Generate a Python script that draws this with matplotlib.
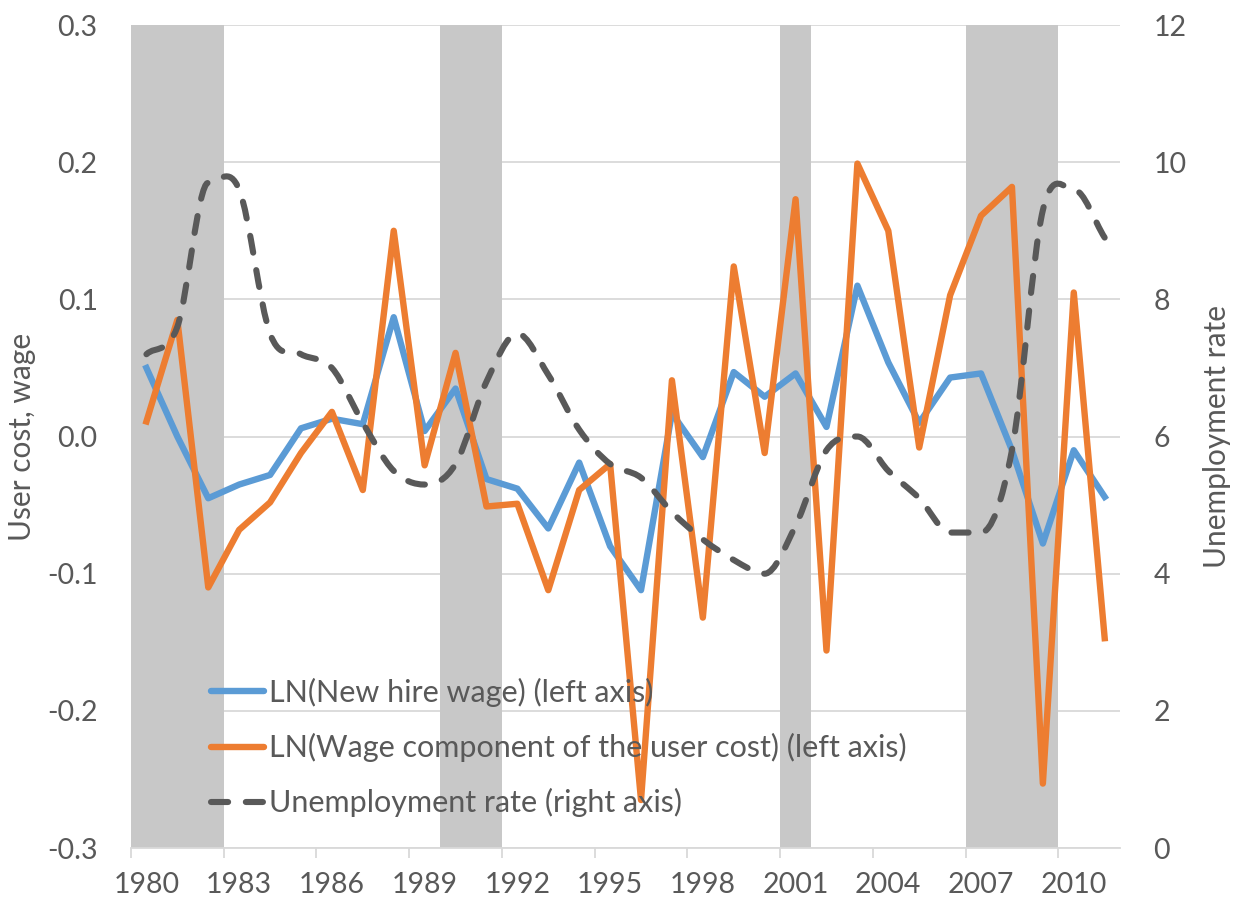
import numpy as np
import matplotlib
matplotlib.use("Agg")
import matplotlib.pyplot as plt
from matplotlib.path import Path
from matplotlib.patches import PathPatch
from matplotlib.lines import Line2D

plt.rcParams['font.family'] = ['Lato', 'DejaVu Sans']

# data
years = list(range(1980, 2012))
new_hire = [0.050, 0.000, -0.045, -0.035, -0.028, 0.006, 0.013, 0.009, 0.087, 0.004,
            0.035, -0.031, -0.038, -0.067, -0.019, -0.080, -0.112, 0.017, -0.015, 0.047,
            0.029, 0.046, 0.007, 0.110, 0.054, 0.010, 0.043, 0.046, -0.010, -0.078,
            -0.010, -0.044]
user_cost = [0.011, 0.085, -0.110, -0.068, -0.048, -0.012, 0.018, -0.039, 0.150, -0.021,
             0.061, -0.051, -0.049, -0.112, -0.039, -0.020, -0.265, 0.041, -0.132, 0.124,
             -0.012, 0.173, -0.156, 0.199, 0.150, -0.008, 0.103, 0.161, 0.182, -0.253,
             0.105, -0.147]
unemp = [7.2, 7.6, 9.7, 9.6, 7.5, 7.2, 7.0, 6.2, 5.5, 5.3,
         5.6, 6.8, 7.5, 6.9, 6.1, 5.6, 5.4, 4.9, 4.5, 4.2,
         4.0, 4.7, 5.8, 6.0, 5.5, 5.1, 4.6, 4.6, 5.8, 9.3,
         9.6, 8.9]
recessions = [(1980, 1983), (1990, 1992), (2001, 2002), (2007, 2010)]
labels = ['LN(New hire wage) (left axis)',
          'LN(Wage component of the user cost) (left axis)',
          'Unemployment rate (right axis)']

blue = '#5B9BD5'
orange = '#ED7D31'
dark = '#595959'
txt = '#595959'
dash = (0, (2.8, 2.9))

fig = plt.figure(figsize=(12.38, 9.07), dpi=100)
ax = fig.add_axes([0.1058, 0.065, 0.799, 0.9074])
ax2 = ax.twinx()

x = np.array(years) + 0.5

# recession shading
for a, b in recessions:
    ax.axvspan(a, b, color='#C8C8C8', lw=0, zorder=1)

ax.set_axisbelow(True)
ax.yaxis.grid(True, color='#D9D9D9', lw=1.3, zorder=0)

ax.plot(x, new_hire, color=blue, lw=4.6, solid_joinstyle='round', zorder=3)
ax.plot(x, user_cost, color=orange, lw=4.6, solid_joinstyle='round', zorder=3)

# smoothed unemployment line, bezier through the points (flat at peaks)
u = np.array(unemp, dtype=float)
n = len(u)
m = np.zeros(n)
for i in range(n):
    if i == 0:
        m[i] = u[1] - u[0]
    elif i == n - 1:
        m[i] = u[-1] - u[-2]
    elif (u[i] - u[i - 1]) * (u[i + 1] - u[i]) > 0:
        m[i] = (u[i + 1] - u[i - 1]) / 2
verts = [(x[0], u[0])]
codes = [Path.MOVETO]
for i in range(n - 1):
    verts += [(x[i] + 1 / 3, u[i] + m[i] / 3),
              (x[i + 1] - 1 / 3, u[i + 1] - m[i + 1] / 3),
              (x[i + 1], u[i + 1])]
    codes += [Path.CURVE4] * 3
ax2.add_patch(PathPatch(Path(verts, codes), fill=False, edgecolor=dark, lw=4.4,
                        linestyle=dash, capstyle='round', zorder=4))

ax.set_xlim(1980, 2012)
ax.set_ylim(-0.3, 0.3)
ax2.set_ylim(0, 12)
ax.set_zorder(ax2.get_zorder() - 1)
ax.patch.set_visible(True)
ax2.patch.set_visible(False)

# tick marks between categories, labels centred on categories
ax.set_xticks(range(1980, 2012, 3))
ax.set_xticklabels([])
ax.set_xticks(x[::3], [str(y) for y in years[::3]], minor=True)
ax.set_yticks(np.arange(-0.3, 0.31, 0.1))
ax.set_yticklabels(['-0.3', '-0.2', '-0.1', '0.0', '0.1', '0.2', '0.3'])
ax2.set_yticks(range(0, 13, 2))

for s in ['top', 'right', 'left']:
    ax.spines[s].set_visible(False)
    ax2.spines[s].set_visible(False)
ax.spines['bottom'].set_color('#D9D9D9')
ax.spines['bottom'].set_linewidth(1.3)
ax2.spines['bottom'].set_visible(False)

ax.tick_params(axis='x', which='major', length=7, width=1.3, color='#D9D9D9')
ax.tick_params(axis='x', which='minor', length=0, pad=17, labelsize=20.5,
               labelcolor=txt)
ax.tick_params(axis='y', length=0, pad=24, labelsize=20.5, labelcolor=txt)
ax2.tick_params(axis='y', length=0, pad=24, labelsize=20.5, labelcolor=txt)

ax.set_ylabel('User cost, wage', fontsize=21.5, color=txt, labelpad=8)
ax2.set_ylabel('Unemployment rate', fontsize=21.5, color=txt, labelpad=12)

handles = [Line2D([], [], color=blue, lw=4.6, solid_capstyle='round'),
           Line2D([], [], color=orange, lw=4.6, solid_capstyle='round'),
           Line2D([], [], color=dark, lw=4.4, linestyle=dash, dash_capstyle='round')]
leg = ax2.legend(handles, labels, loc='upper left', bbox_to_anchor=(0.053, 0.24),
                 frameon=False, fontsize=22, handlelength=1.75, handletextpad=0.15,
                 labelspacing=0.85)
for t in leg.get_texts():
    t.set_color(txt)

fig.savefig('out.png', dpi=100)
